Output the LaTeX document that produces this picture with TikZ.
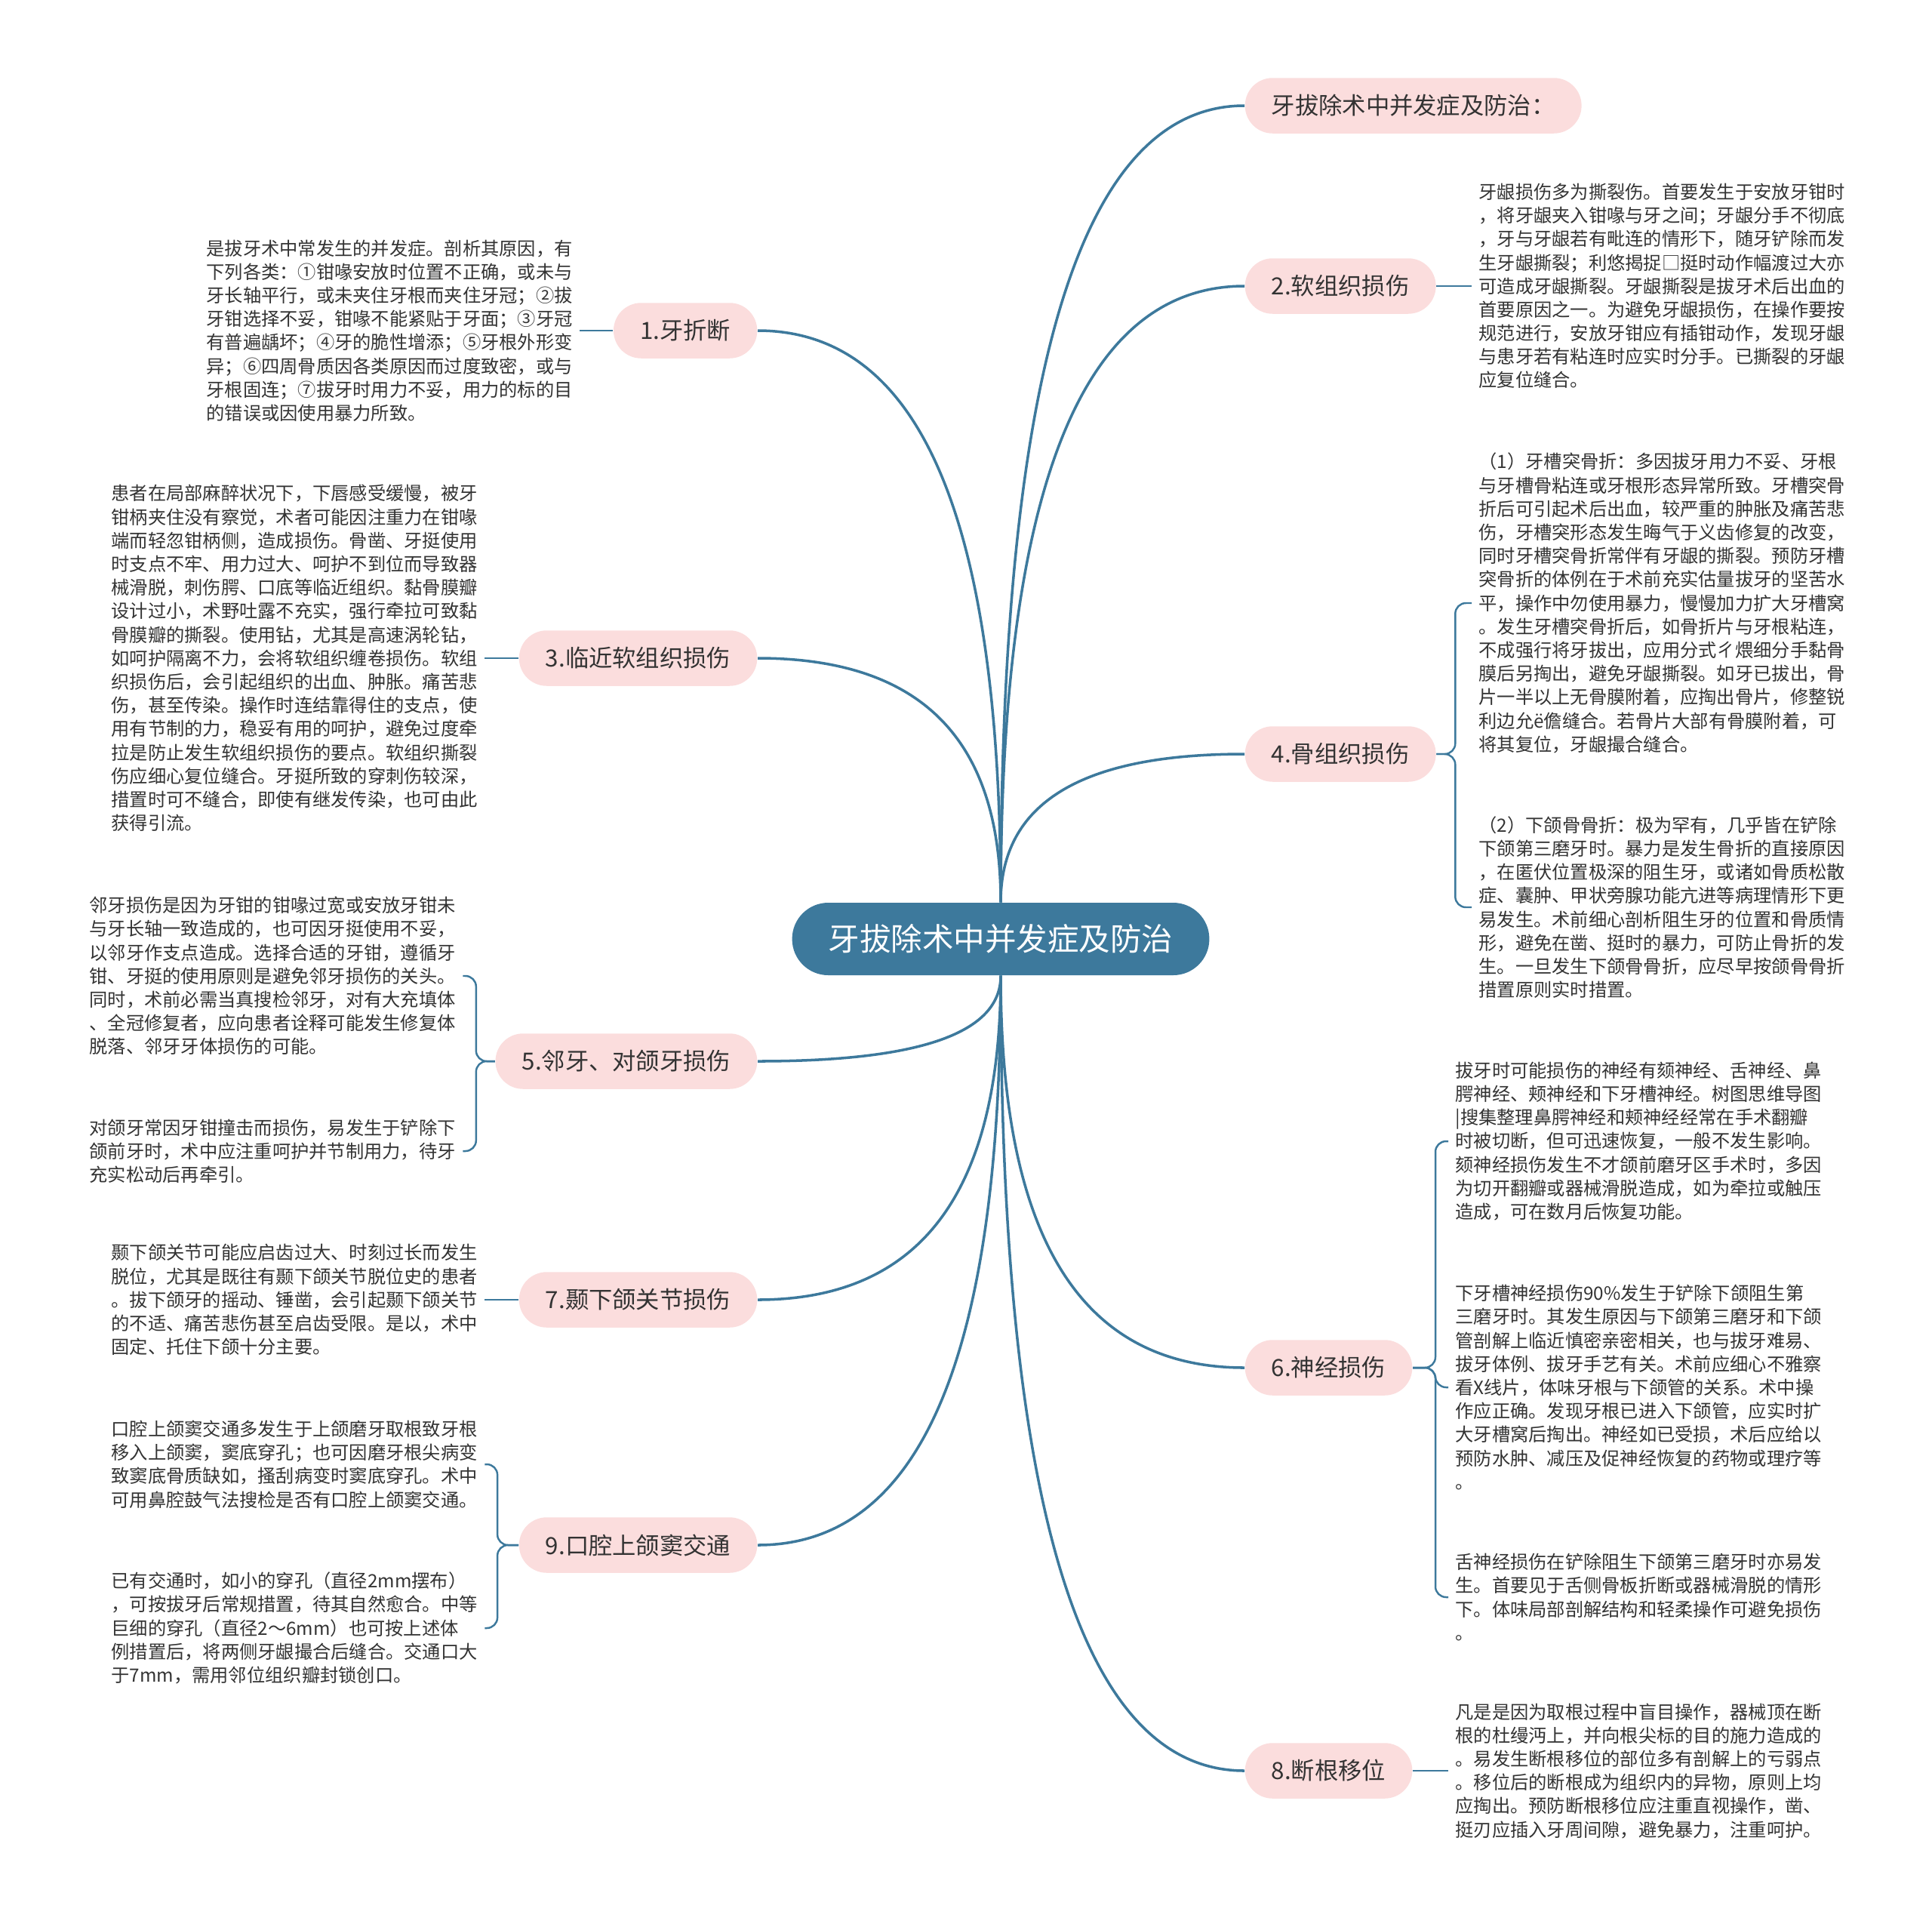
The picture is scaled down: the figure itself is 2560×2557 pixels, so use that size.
\documentclass[tikz,border=0pt]{standalone}
\usepackage{fontspec}
\setmainfont{Noto Sans CJK SC}
\usetikzlibrary{calc}
\definecolor{biru}{RGB}{61,121,156}
\definecolor{merah}{RGB}{251,221,221}
\definecolor{teks}{RGB}{51,51,51}
\newcommand{\lengkung}[2]{\draw[garis] (#1) .. controls ($(#1)!0.67!(#1 |- #2)$) and ($(#2)!0.67!(#1 |- #2)$) .. (#2);}

\begin{document}
\begin{tikzpicture}[x=0.01cm,y=-0.01cm,
  pusat/.style={rounded corners=13.6pt,fill=biru,text=white,
    font=\fontsize{11.8pt}{14pt}\selectfont,minimum height=27.3pt,inner xsep=13.7pt},
  cabang/.style={rounded corners=10.4pt,fill=merah,text=teks,
    font=\fontsize{8.9pt}{10pt}\selectfont,minimum height=20.9pt,inner xsep=10pt},
  catatan/.style={align=left,text=teks,inner xsep=2.5pt,inner ysep=0pt,
    font=\fontsize{6.9pt}{8.87pt}\selectfont},
  garis/.style={biru,line width=1pt},
  ranting/.style={biru,line width=0.7pt,rounded corners=4pt}]
  \useasboundingbox (0,0) rectangle (2560,2557);

  % pusat
  \node[pusat] (R) at (1326,1244) {牙拔除术中并发症及防治};

  % cabang kanan
  \node[cabang,anchor=west] (T)  at (1649,140)  {牙拔除术中并发症及防治：};
  \node[cabang,anchor=west] (B2) at (1649,379)  {2.软组织损伤};
  \node[cabang,anchor=west] (B4) at (1649,999)  {4.骨组织损伤};
  \node[cabang,anchor=west] (B6) at (1649,1812) {6.神经损伤};
  \node[cabang,anchor=west] (B8) at (1649,2346) {8.断根移位};

  % cabang kiri
  \node[cabang,anchor=east] (B1) at (1004,438)  {1.牙折断};
  \node[cabang,anchor=east] (B3) at (1004,872)  {3.临近软组织损伤};
  \node[cabang,anchor=east] (B5) at (1004,1406) {5.邻牙、对颌牙损伤};
  \node[cabang,anchor=east] (B7) at (1004,1722) {7.颞下颌关节损伤};
  \node[cabang,anchor=east] (B9) at (1004,2047) {9.口腔上颌窦交通};

  \lengkung{R.north}{T.west}
  \lengkung{R.north}{B2.west}
  \lengkung{R.north}{B4.west}
  \lengkung{R.south}{B6.west}
  \lengkung{R.south}{B8.west}
  \lengkung{R.north}{B1.east}
  \lengkung{R.north}{B3.east}
  \lengkung{R.south}{B5.east}
  \lengkung{R.south}{B7.east}
  \lengkung{R.south}{B9.east}

  % catatan kiri
  \node[catatan,anchor=west] (K1) at (264,438) {是拔牙术中常发生的并发症。剖析其原因，有\\
下列各类：①钳喙安放时位置不正确，或未与\\
牙长轴平行，或未夹住牙根而夹住牙冠；②拔\\
牙钳选择不妥，钳喙不能紧贴于牙面；③牙冠\\
有普遍龋坏；④牙的脆性增添；⑤牙根外形变\\
异；⑥四周骨质因各类原因而过度致密，或与\\
牙根固连；⑦拔牙时用力不妥，用力的标的目\\
的错误或因使用暴力所致。};
  \node[catatan,anchor=west] (K3) at (138,872) {患者在局部麻醉状况下，下唇感受缓慢，被牙\\
钳柄夹住没有察觉，术者可能因注重力在钳喙\\
端而轻忽钳柄侧，造成损伤。骨凿、牙挺使用\\
时支点不牢、用力过大、呵护不到位而导致器\\
械滑脱，刺伤腭、口底等临近组织。黏骨膜瓣\\
设计过小，术野吐露不充实，强行牵拉可致黏\\
骨膜瓣的撕裂。使用钻，尤其是高速涡轮钻，\\
如呵护隔离不力，会将软组织缠卷损伤。软组\\
织损伤后，会引起组织的出血、肿胀。痛苦悲\\
伤，甚至传染。操作时连结靠得住的支点，使\\
用有节制的力，稳妥有用的呵护，避免过度牵\\
拉是防止发生软组织损伤的要点。软组织撕裂\\
伤应细心复位缝合。牙挺所致的穿刺伤较深，\\
措置时可不缝合，即使有继发传染，也可由此\\
获得引流。};
  \node[catatan,anchor=west] (K5a) at (109,1293) {邻牙损伤是因为牙钳的钳喙过宽或安放牙钳未\\
与牙长轴一致造成的，也可因牙挺使用不妥，\\
以邻牙作支点造成。选择合适的牙钳，遵循牙\\
钳、牙挺的使用原则是避免邻牙损伤的关头。\\
同时，术前必需当真搜检邻牙，对有大充填体\\
、全冠修复者，应向患者诠释可能发生修复体\\
脱落、邻牙牙体损伤的可能。};
  \node[catatan,anchor=west] (K5b) at (109,1525) {对颌牙常因牙钳撞击而损伤，易发生于铲除下\\
颌前牙时，术中应注重呵护并节制用力，待牙\\
充实松动后再牵引。};
  \node[catatan,anchor=west] (K7) at (138,1722) {颞下颌关节可能应启齿过大、时刻过长而发生\\
脱位，尤其是既往有颞下颌关节脱位史的患者\\
。拔下颌牙的摇动、锤凿，会引起颞下颌关节\\
的不适、痛苦悲伤甚至启齿受限。是以，术中\\
固定、托住下颌十分主要。};
  \node[catatan,anchor=west] (K9a) at (138,1940) {口腔上颌窦交通多发生于上颌磨牙取根致牙根\\
移入上颌窦，窦底穿孔；也可因磨牙根尖病变\\
致窦底骨质缺如，搔刮病变时窦底穿孔。术中\\
可用鼻腔鼓气法搜检是否有口腔上颌窦交通。};
  \node[catatan,anchor=west] (K9b) at (138,2157) {已有交通时，如小的穿孔（直径2mm摆布）\\
，可按拔牙后常规措置，待其自然愈合。中等\\
巨细的穿孔（直径2～6mm）也可按上述体\\
例措置后，将两侧牙龈撮合后缝合。交通口大\\
于7mm，需用邻位组织瓣封锁创口。};

  % catatan kanan
  \node[catatan,anchor=west] (K2) at (1950,379) {牙龈损伤多为撕裂伤。首要发生于安放牙钳时\\
，将牙龈夹入钳喙与牙之间；牙龈分手不彻底\\
，牙与牙龈若有毗连的情形下，随牙铲除而发\\
生牙龈撕裂；利悠揭捉□挺时动作幅渡过大亦\\
可造成牙龈撕裂。牙龈撕裂是拔牙术后出血的\\
首要原因之一。为避免牙龈损伤，在操作要按\\
规范进行，安放牙钳应有插钳动作，发现牙龈\\
与患牙若有粘连时应实时分手。已撕裂的牙龈\\
应复位缝合。};
  \node[catatan,anchor=west] (K4a) at (1950,799) {（1）牙槽突骨折：多因拔牙用力不妥、牙根\\
与牙槽骨粘连或牙根形态异常所致。牙槽突骨\\
折后可引起术后出血，较严重的肿胀及痛苦悲\\
伤，牙槽突形态发生晦气于义齿修复的改变，\\
同时牙槽突骨折常伴有牙龈的撕裂。预防牙槽\\
突骨折的体例在于术前充实估量拔牙的坚苦水\\
平，操作中勿使用暴力，慢慢加力扩大牙槽窝\\
。发生牙槽突骨折后，如骨折片与牙根粘连，\\
不成强行将牙拔出，应用分式ㄔ煨细分手黏骨\\
膜后另掏出，避免牙龈撕裂。如牙已拔出，骨\\
片一半以上无骨膜附着，应掏出骨片，修整锐\\
利边允ë儋缝合。若骨片大部有骨膜附着，可\\
将其复位，牙龈撮合缝合。};
  \node[catatan,anchor=west] (K4b) at (1950,1202) {（2）下颌骨骨折：极为罕有，几乎皆在铲除\\
下颌第三磨牙时。暴力是发生骨折的直接原因\\
，在匿伏位置极深的阻生牙，或诸如骨质松散\\
症、囊肿、甲状旁腺功能亢进等病理情形下更\\
易发生。术前细心剖析阻生牙的位置和骨质情\\
形，避免在凿、挺时的暴力，可防止骨折的发\\
生。一旦发生下颌骨骨折，应尽早按颌骨骨折\\
措置原则实时措置。};
  \node[catatan,anchor=west] (K6a) at (1919,1512) {拔牙时可能损伤的神经有颏神经、舌神经、鼻\\
腭神经、颊神经和下牙槽神经。树图思维导图\\
|搜集整理鼻腭神经和颊神经经常在手术翻瓣\\
时被切断，但可迅速恢复，一般不发生影响。\\
颏神经损伤发生不才颌前磨牙区手术时，多因\\
为切开翻瓣或器械滑脱造成，如为牵拉或触压\\
造成，可在数月后恢复功能。};
  \node[catatan,anchor=west] (K6b) at (1919,1838) {下牙槽神经损伤90\%发生于铲除下颌阻生第\\
三磨牙时。其发生原因与下颌第三磨牙和下颌\\
管剖解上临近慎密亲密相关，也与拔牙难易、\\
拔牙体例、拔牙手艺有关。术前应细心不雅察\\
看X线片，体味牙根与下颌管的关系。术中操\\
作应正确。发现牙根已进入下颌管，应实时扩\\
大牙槽窝后掏出。神经如已受损，术后应给以\\
预防水肿、减压及促神经恢复的药物或理疗等\\
。};
  \node[catatan,anchor=west] (K6c) at (1919,2116) {舌神经损伤在铲除阻生下颌第三磨牙时亦易发\\
生。首要见于舌侧骨板折断或器械滑脱的情形\\
下。体味局部剖解结构和轻柔操作可避免损伤\\
。};
  \node[catatan,anchor=west] (K8) at (1919,2346) {凡是是因为取根过程中盲目操作，器械顶在断\\
根的杜缦沔上，并向根尖标的目的施力造成的\\
。易发生断根移位的部位多有剖解上的亏弱点\\
。移位后的断根成为组织内的异物，原则上均\\
应掏出。预防断根移位应注重直视操作，凿、\\
挺刃应插入牙周间隙，避免暴力，注重呵护。};

  % ranting
  \draw[ranting] (B1.west) -- (K1.east);
  \draw[ranting] (B3.west) -- (K3.east);
  \draw[ranting] (B5.west) -- ++(-25,0) |- (K5a.east);
  \draw[ranting] (B5.west) -- ++(-25,0) |- (K5b.east);
  \draw[ranting] (B7.west) -- (K7.east);
  \draw[ranting] (B9.west) -- ++(-28,0) |- (K9a.east);
  \draw[ranting] (B9.west) -- ++(-28,0) |- (K9b.east);
  \draw[ranting] (B2.east) -- (K2.west);
  \draw[ranting] (B4.east) -- ++(25,0) |- (K4a.west);
  \draw[ranting] (B4.east) -- ++(25,0) |- (K4b.west);
  \draw[ranting] (B6.east) -- ++(30,0) |- (K6a.west);
  \draw[ranting] (B6.east) -- ++(30,0) |- (K6b.west);
  \draw[ranting] (B6.east) -- ++(30,0) |- (K6c.west);
  \draw[ranting] (B8.east) -- (K8.west);
\end{tikzpicture}
\end{document}
